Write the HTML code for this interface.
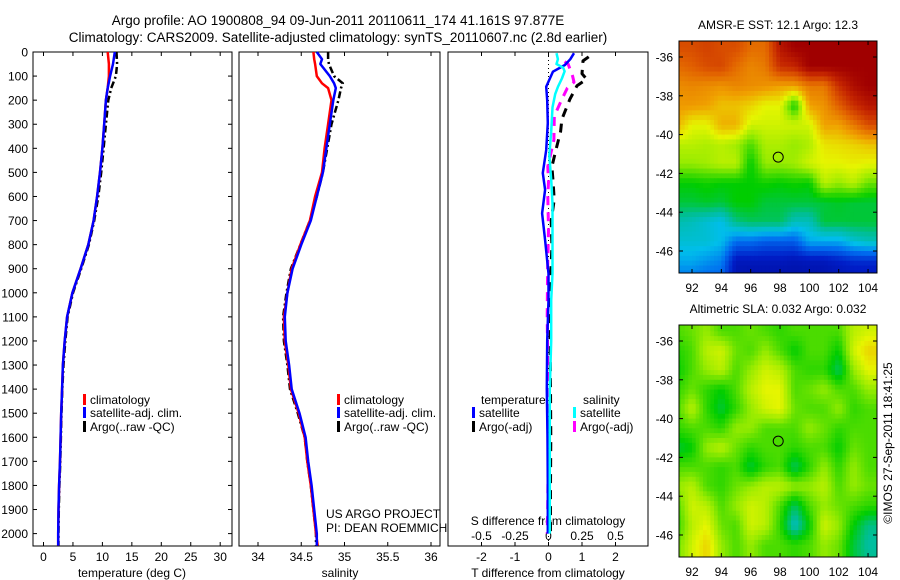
<!DOCTYPE html>
<html><head><meta charset="utf-8"><style>
html,body{margin:0;padding:0;background:#fff;}
svg{display:block;font-family:"Liberation Sans",sans-serif;}
</style></head><body>
<svg id="fig" width="900" height="580" viewBox="0 0 900 580" xmlns="http://www.w3.org/2000/svg">
<text x="338" y="25" font-size="13.5" text-anchor="middle">Argo profile: AO 1900808_94 09-Jun-2011 20110611_174 41.161S 97.877E</text>
<text x="338" y="42" font-size="13.5" text-anchor="middle">Climatology: CARS2009. Satellite-adjusted climatology: synTS_20110607.nc (2.8d earlier)</text>
<g id="g"></g>
</svg>
<script>
// ---- profile data ----
const depths = [0,50,100,150,200,300,400,500,600,700,800,900,1000,1100,1200,1300,1400,1500,1600,1700,1800,1900,2000,2050];
const tempClim = [10.9,11.1,11.1,10.9,10.6,10.3,10.0,9.6,9.1,8.5,7.6,6.3,4.9,4.0,3.6,3.3,3.15,3.0,2.9,2.8,2.65,2.55,2.5,2.5];
const tempSat  = [12.1,11.8,11.3,10.9,10.6,10.3,10.0,9.6,9.1,8.5,7.6,6.3,4.9,4.0,3.6,3.3,3.15,3.0,2.9,2.8,2.65,2.55,2.5,2.5];
const tempArgo = [12.4,12.5,12.3,11.5,11.0,10.6,10.2,9.8,9.3,8.6,7.7,6.4,5.0,4.1,3.7,3.4,3.2,3.05,2.95,2.85,2.7,2.6,2.55,2.55];
const salDepths = [0,30,50,100,130,150,200,300,400,500,600,700,800,900,1000,1100,1200,1300,1400,1500,1600,1700,1800,1900,2000,2050];
const salClim = [34.64,34.65,34.66,34.68,34.74,34.81,34.85,34.81,34.77,34.74,34.66,34.6,34.49,34.39,34.34,34.3,34.31,34.35,34.38,34.47,34.54,34.57,34.61,34.64,34.67,34.69];
const salSat  = [34.68,34.74,34.72,34.83,34.88,34.9,34.87,34.83,34.79,34.75,34.68,34.61,34.5,34.4,34.34,34.31,34.32,34.36,34.39,34.48,34.55,34.58,34.62,34.65,34.68,34.68];
const salArgo = [34.81,34.81,34.82,34.88,34.98,34.96,34.93,34.85,34.8,34.75,34.68,34.6,34.49,34.38,34.33,34.29,34.3,34.34,34.37,34.46,34.54,34.57,34.61,34.64,34.67,34.67];
// ---- difference data ----
const dTDepths = [5,30,54,82,144,200,295,407,503,572,670,781,920,1030,1200,1400,1600,1800,2000];
const dTSat = [0.76,0.65,0.49,0.13,-0.07,-0.04,-0.02,-0.07,-0.17,-0.1,-0.19,-0.1,0.0,0.0,-0.04,-0.05,-0.03,-0.02,-0.02];
const dSDepths = [5,30,50,65,80,110,145,175,230,330,430,530,630,780,920,1030,1200,1400,1600,1800,2000];
const dSSat = [0.06,0.07,0.06,0.11,0.12,0.1,0.07,0.05,0.03,0.02,0.006,0.02,0.03,0.03,0.03,0.02,0.02,0.01,0.01,0.01,0.01];
const dTArgoDepths = [20,37,90,113,140,196,279,330,407,476,545,614,700,808,920,1030,1200,1400,1600,1800,2000];
const dTArgo = [1.2,1.03,1.0,1.14,0.85,0.64,0.4,0.36,0.22,0.1,0.14,0.17,0.08,0.1,0.07,0.05,0.05,0.06,0.07,0.06,0.06];
const dSArgoDepths = [40,50,100,125,150,196,266,365,476,540,600,740,900,1100,1300,1500,1700,1900,2000];
const dSArgo = [0.12,0.146,0.18,0.19,0.14,0.1,0.043,0.04,-0.005,0.0,-0.005,0.0,-0.007,-0.01,-0.005,-0.005,-0.003,-0.006,-0.01];
// ---- maps (rows: lat -35..-47 by 1 deg; cols: lon 91..104) ----
const mapLons = [91,92,93,94,95,96,97,98,99,100,101,102,103,104];
const sstGrid = [
[0.85,0.85,0.87,0.85,0.85,0.8,0.8,0.95,1,1,1,1,1,1],
[0.8,0.82,0.85,0.86,0.8,0.76,0.78,0.9,0.92,1,1,1,1,1],
[0.75,0.76,0.75,0.74,0.76,0.75,0.74,0.72,0.72,0.78,0.78,0.9,0.97,1],
[0.73,0.73,0.72,0.68,0.68,0.66,0.62,0.62,0.45,0.72,0.74,0.82,0.9,0.95],
[0.7,0.62,0.62,0.7,0.7,0.6,0.6,0.6,0.6,0.6,0.72,0.72,0.78,0.85],
[0.58,0.58,0.57,0.58,0.56,0.5,0.57,0.57,0.55,0.57,0.64,0.65,0.66,0.68],
[0.55,0.55,0.56,0.58,0.58,0.45,0.55,0.55,0.56,0.6,0.62,0.62,0.63,0.62],
[0.45,0.45,0.46,0.45,0.45,0.45,0.46,0.45,0.46,0.45,0.58,0.55,0.58,0.52],
[0.42,0.42,0.43,0.42,0.45,0.45,0.42,0.42,0.42,0.42,0.42,0.43,0.42,0.42],
[0.35,0.34,0.32,0.3,0.38,0.4,0.4,0.4,0.34,0.34,0.42,0.42,0.42,0.42],
[0.32,0.32,0.32,0.3,0.22,0.22,0.2,0.2,0.2,0.28,0.28,0.28,0.32,0.34],
[0.28,0.28,0.26,0.24,0.1,0.1,0.1,0.1,0.09,0.1,0.1,0.12,0.14,0.14],
[0.22,0.22,0.2,0.2,0.07,0.06,0.06,0.06,0.06,0.06,0.06,0.07,0.08,0.08]];
const slaGrid = [
[0.5,0.52,0.55,0.5,0.5,0.52,0.5,0.48,0.5,0.5,0.5,0.5,0.58,0.6],
[0.47,0.5,0.58,0.6,0.52,0.5,0.55,0.5,0.45,0.5,0.5,0.45,0.6,0.66],
[0.45,0.5,0.55,0.58,0.5,0.55,0.6,0.58,0.5,0.48,0.48,0.4,0.55,0.62],
[0.48,0.52,0.48,0.45,0.5,0.58,0.62,0.62,0.5,0.52,0.55,0.5,0.5,0.55],
[0.5,0.58,0.48,0.42,0.48,0.55,0.6,0.62,0.52,0.5,0.5,0.55,0.48,0.5],
[0.48,0.5,0.5,0.48,0.55,0.55,0.5,0.5,0.5,0.55,0.52,0.48,0.5,0.5],
[0.42,0.45,0.55,0.58,0.52,0.48,0.5,0.5,0.48,0.5,0.5,0.45,0.52,0.5],
[0.5,0.5,0.5,0.48,0.5,0.42,0.48,0.5,0.4,0.48,0.55,0.48,0.55,0.5],
[0.55,0.58,0.5,0.48,0.52,0.55,0.58,0.58,0.55,0.55,0.58,0.5,0.55,0.52],
[0.5,0.6,0.58,0.5,0.55,0.6,0.58,0.5,0.4,0.5,0.55,0.52,0.5,0.48],
[0.48,0.58,0.62,0.52,0.5,0.6,0.58,0.48,0.33,0.45,0.6,0.55,0.45,0.38],
[0.52,0.6,0.66,0.55,0.5,0.55,0.5,0.5,0.48,0.5,0.55,0.52,0.42,0.36],
[0.52,0.6,0.66,0.55,0.5,0.55,0.5,0.5,0.48,0.5,0.55,0.52,0.42,0.38]];
const argoLon = 97.877, argoLat = -41.161;
const depthTicks = [0,100,200,300,400,500,600,700,800,900,1000,1100,1200,1300,1400,1500,1600,1700,1800,1900,2000];
const tempTicks = [0,5,10,15,20,25,30];
const salTicks = [34,34.5,35,35.5,36];
const dTTicks = [-2,-1,0,1,2];
const dSTicks = [-0.5,-0.25,0,0.25,0.5];
const latTicks = [-36,-38,-40,-42,-44,-46];
const lonTicks = [92,94,96,98,100,102,104];

const NS='http://www.w3.org/2000/svg';
const G=document.getElementById('g');
function el(tag,attrs,parent,text){const e=document.createElementNS(NS,tag);for(const k in attrs)e.setAttribute(k,attrs[k]);if(text!==undefined)e.textContent=text;(parent||G).appendChild(e);return e;}
const yD = d => 52 + d*0.2408;
const xT = t => 43.5 + t*5.89;
const xS = s => 258 + (s-34)*86.5;
const xDT = v => 548.5 + v*33.5;
const xDS = v => 548.5 + v*134;
const PT=52, PB=546;
const panels=[[33,232],[239,440],[448,648]];

function line(xs,ds,fx,color,w,dash,name){
  let d='';for(let i=0;i<xs.length;i++){d+=(i?'L':'M')+fx(xs[i]).toFixed(1)+' '+yD(ds[i]).toFixed(1);}
  const p=el('path',{d:d,fill:'none',stroke:color,'stroke-width':w,'stroke-linejoin':'round'});
  if(dash)p.setAttribute('stroke-dasharray',dash);
  
  
}
panels.forEach((p,i)=>{
  const r=el('rect',{x:p[0],y:PT,width:p[1]-p[0],height:PB-PT,fill:'none',stroke:'#000','stroke-width':1});
  
  
});
depthTicks.forEach(d=>{
  const y=yD(d);
  el('line',{x1:33,x2:37,y1:y,y2:y,stroke:'#000'});
  el('line',{x1:228,x2:232,y1:y,y2:y,stroke:'#000'});
  const t=el('text',{x:28,y:y+4.5,'font-size':12,'text-anchor':'end'},G,String(d));
  
  
});
function xticks(vals,fx,labelY,fmt,name){
  vals.forEach(v=>{const x=fx(v);
    el('line',{x1:x,x2:x,y1:PB,y2:PB-4,stroke:'#000'});
    el('line',{x1:x,x2:x,y1:PT,y2:PT+4,stroke:'#000'});
    const t=el('text',{x:x,y:labelY,'font-size':12,'text-anchor':'middle'},G,fmt(v));
    
    
  });
}
xticks(tempTicks,xT,561,v=>String(v),'temperature-tick-label');
xticks(salTicks,xS,561,v=>String(v),'salinity-tick-label');
xticks(dTTicks,xDT,561,v=>String(v),'t-diff-tick-label');
dSTicks.forEach(v=>{const t=el('text',{x:xDS(v),y:540,'font-size':12,'text-anchor':'middle'},G,String(v));
  
  });
function label(x,y,txt,name,anchor){const t=el('text',{x:x,y:y,'font-size':12,'text-anchor':anchor||'middle'},G,txt);
  
  return t;}
label(132,577,'temperature (deg C)','temperature-axis-title');
label(340,577,'salinity','salinity-axis-title');
label(548,577,'T difference from climatology','t-diff-axis-title');
label(548,525,'S difference from climatology','s-diff-axis-title');
label(326,518,'US ARGO PROJECT','project-label','start');
label(326,532,'PI: DEAN ROEMMICH','pi-label','start');
const z=el('line',{x1:xDT(0),x2:xDT(0),y1:PT,y2:PB,stroke:'#000','stroke-dasharray':'1 3'});


line(tempArgo,depths,xT,'#000',2.5,'7 3 2 3','temp-argo-line');
line(tempClim,depths,xT,'#f00',2.5,null,'temp-climatology-line');
line(tempSat,depths,xT,'#00f',2.5,null,'temp-satellite-line');
line(salArgo,salDepths,xS,'#000',2.5,'7 3 2 3','salinity-argo-line');
line(salClim,salDepths,xS,'#f00',2.5,null,'salinity-climatology-line');
line(salSat,salDepths,xS,'#00f',2.5,null,'salinity-satellite-line');
line(dTArgo,dTArgoDepths,xDT,'#000',3,'9 7','t-diff-argo-line');
line(dSArgo,dSArgoDepths,xDS,'#f0f',3,'9 7','s-diff-argo-line');
line(dTSat,dTDepths,xDT,'#00f',2.5,null,'t-diff-satellite-line');
line(dSSat,dSDepths,xDS,'#0ff',2.5,null,'s-diff-satellite-line');
function leg(x,y,color,txt,name){
  const m=el('rect',{x:x,y:y-10,width:3,height:11,fill:color});
  
  
  label(x+7,y,txt,name,'start');
}
leg(83,404,'#f00','climatology','legend-temp-climatology');
leg(83,417,'#00f','satellite-adj. clim.','legend-temp-satellite');
leg(83,431,'#000','Argo(..raw -QC)','legend-temp-argo');
leg(337,404,'#f00','climatology','legend-sal-climatology');
leg(337,417,'#00f','satellite-adj. clim.','legend-sal-satellite');
leg(337,431,'#000','Argo(..raw -QC)','legend-sal-argo');
label(481,404,'temperature','legend-temperature-heading','start');
label(583,404,'salinity','legend-salinity-heading','start');
leg(472,417,'#00f','satellite','legend-t-diff-satellite');
leg(472,431,'#000','Argo(-adj)','legend-t-diff-argo');
leg(573,417,'#0ff','satellite','legend-s-diff-satellite');
leg(573,431,'#f0f','Argo(-adj)','legend-s-diff-argo');

// ---- maps ----
const stops=[[0,[0,0,130]],[0.12,[0,30,200]],[0.22,[0,110,240]],[0.3,[0,190,235]],[0.37,[0,190,150]],[0.45,[0,205,0]],[0.55,[150,235,0]],[0.62,[230,245,0]],[0.72,[240,160,0]],[0.82,[225,95,0]],[0.92,[195,35,0]],[1,[160,0,0]]];
function cmap(v){for(let i=1;i<stops.length;i++){if(v<=stops[i][0]){const a=stops[i-1],b=stops[i],f=(v-a[0])/(b[0]-a[0]);return 'rgb('+a[1].map((c,k)=>Math.round(c+(b[1][k]-c)*f)).join(',')+')';}}return 'rgb(160,0,0)';}
function sample(grid,r,c){ // bilinear on cell centres
  const R=grid.length,C=grid[0].length;
  r=Math.max(0,Math.min(R-1,r));c=Math.max(0,Math.min(C-1,c));
  const r0=Math.floor(r),c0=Math.floor(c),r1=Math.min(R-1,r0+1),c1=Math.min(C-1,c0+1),fr=r-r0,fc=c-c0;
  return grid[r0][c0]*(1-fr)*(1-fc)+grid[r0][c1]*(1-fr)*fc+grid[r1][c0]*fr*(1-fc)+grid[r1][c1]*fr*fc;
}
function drawMap(top,grid,title,name,sub){
  const L=679,R=877,B=top+232;
  const mx=lon=>692+(lon-92)*14.67, my=lat=>top+16+(-36-lat)*19.4;
  const cid='clip-'+name;
  const cp=el('clipPath',{id:cid});el('rect',{x:L,y:top,width:R-L,height:B-top},cp);
  const g=el('g',{'clip-path':'url(#'+cid+')'});
  
  
  const step=1/sub;
  for(let lat=-34.5; lat>-48; lat-=step){
    for(let lon=90; lon<106; lon+=step){
      const lc=lon+step/2, la=lat-step/2;
      const v=sub>1?sample(grid,(-35.5-la),(lc-91)):grid[Math.max(0,Math.min(grid.length-1,Math.floor(-35-la)))][Math.max(0,Math.min(13,Math.round(lc-91)))];
      el('rect',{x:mx(lon),y:my(lat),width:14.67*step+0.5,height:19.4*step+0.5,fill:cmap(v)},g);
    }
  }
  const fr=el('rect',{x:L,y:top,width:R-L,height:B-top,fill:'none',stroke:'#000'});
  
  
  latTicks.forEach(lat=>{const y=my(lat);el('line',{x1:L,x2:L+4,y1:y,y2:y,stroke:'#000'});el('line',{x1:R-4,x2:R,y1:y,y2:y,stroke:'#000'});
    label(673,y+4.5,String(lat),name+'-lat-label','end');});
  lonTicks.forEach(lon=>{const x=mx(lon);el('line',{x1:x,x2:x,y1:B,y2:B-4,stroke:'#000'});el('line',{x1:x,x2:x,y1:top,y2:top+4,stroke:'#000'});
    label(x,B+19,String(lon),name+'-lon-label');});
  const c=el('circle',{cx:mx(argoLon),cy:my(argoLat),r:5,fill:'none',stroke:'#000','stroke-width':1});
  
  
  label((L+R)/2,top-12,title,name+'-title');
}
drawMap(41,sstGrid,'AMSR-E SST: 12.1 Argo: 12.3','sst-map',4);
drawMap(325,slaGrid,'Altimetric SLA: 0.032 Argo: 0.032','sla-map',4);
const ts=el('text',{x:892,y:443,'font-size':12,'text-anchor':'middle',transform:'rotate(-90 892 443)'},G,'©IMOS 27-Sep-2011 18:41:25');


</script>
</body></html>
